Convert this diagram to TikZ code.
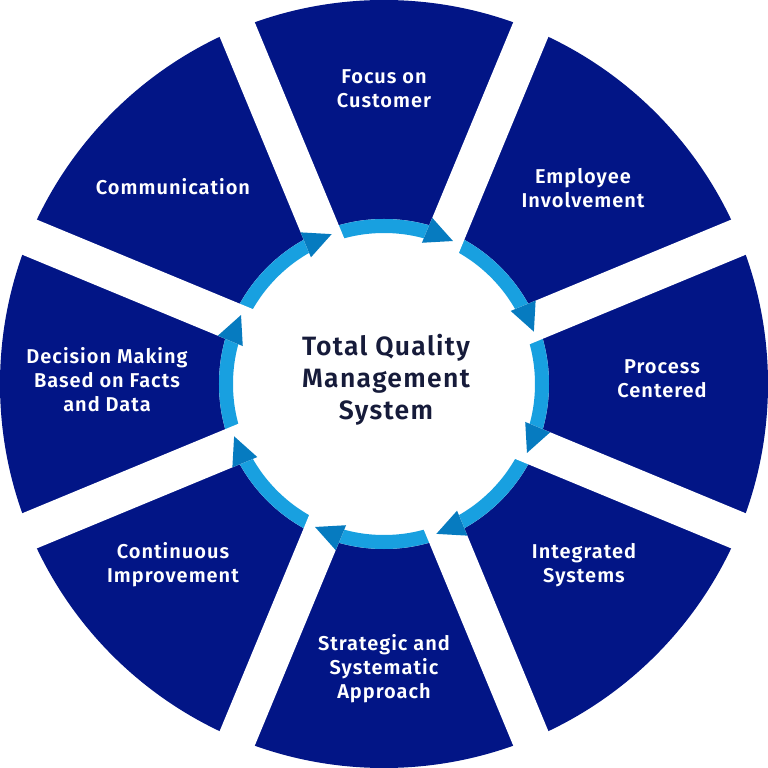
\documentclass[tikz,border=0pt]{standalone}
\usepackage{fontspec}
\setmainfont{Fira Sans}[BoldFont={Fira Sans SemiBold}, LetterSpace=5]
\definecolor{navy}{RGB}{2,21,134}
\definecolor{ringc}{RGB}{24,160,224}
\definecolor{arrowc}{RGB}{6,123,192}
\definecolor{ctrc}{RGB}{22,27,58}
\tikzset{
  seg/.style={text=white, font=\fontsize{20}{24}\selectfont\bfseries, align=center, inner sep=0pt},
  ctr/.style={text=ctrc, font=\fontsize{26.5}{32}\selectfont\bfseries, align=center, inner sep=0pt},
  gapband/.style={fill=white},
  ringarrow/.style={fill=arrowc}
}
\begin{document}
\begin{tikzpicture}[x=1pt,y=1pt]
\useasboundingbox (-384pt,-384pt) rectangle (384pt,384pt);
% wheel
\fill[navy] (0,0) circle (384pt);
\fill[white] (0,0) circle (165pt);
\draw[ringc, line width=14pt] (0,0) circle (158pt);
% gaps
\foreach \g in {22.5,67.5,...,337.5}{
  \begin{scope}[rotate=\g]
    \fill[gapband] (0pt,-19pt) rectangle (430pt,19pt);
  \end{scope}
}
% arrowheads
\foreach \g in {22.5,67.5,...,337.5}{
  \begin{scope}[rotate=\g]
    \fill[ringarrow] (145pt,19pt) -- (172pt,19pt) -- (158.5pt,-9pt) -- cycle;
  \end{scope}
}
% labels
\node[seg] (focus) at (0pt,295.5pt) {Focus on\\Customer};
\node[seg] (employee) at (199pt,196pt) {Employee\\Involvement};
\node[seg] (process) at (278pt,5pt) {Process\\Centered};
\node[seg] (integrated) at (200pt,-181pt) {Integrated\\Systems};
\node[seg] (strategic) at (0pt,-285pt) {Strategic and\\Systematic\\Approach};
\node[seg] (continuous) at (-211pt,-181pt) {Continuous\\Improvement};
\node[seg] (decision) at (-277pt,4pt) {Decision Making\\Based on Facts\\and Data};
\node[seg] (communication) at (-211pt,197pt) {Communication};
\node[ctr] (center) at (2pt,4pt) {Total Quality\\Management\\System};
\end{tikzpicture}
\end{document}
